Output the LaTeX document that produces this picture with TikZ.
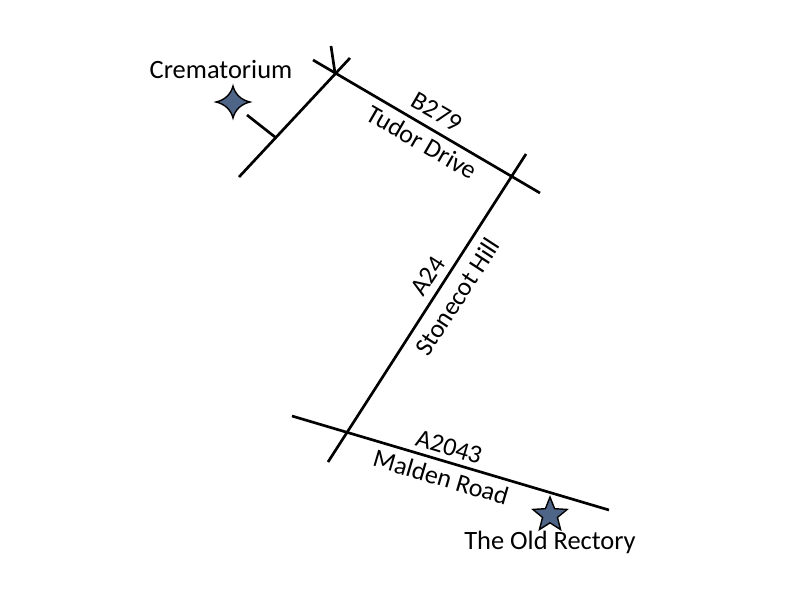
\documentclass[tikz,border=0pt]{standalone}
\usepackage{fontspec}
\setmainfont{Carlito}
\usetikzlibrary{shapes.geometric}
\tikzstyle{road} = [line width=1.9pt, line cap=butt]
\tikzstyle{place} = [font=\fontsize{18.8}{21}\selectfont, inner sep=0pt]
\tikzstyle{roadname} = [font=\fontsize{18.4}{21}\selectfont, inner sep=0pt]
\tikzstyle{mark star} = [star, star points=5, star point ratio=2.3, minimum size=36*0.711pt, inner sep=0pt, draw=black, line width=1pt, fill=starblue]
\definecolor{starblue}{HTML}{4F6588}

\begin{document}
\begin{tikzpicture}[x=0.711pt, y=-0.711pt]
	\useasboundingbox (0,0) rectangle (800,600);
	% junctions and road ends
	\coordinate (tudor a) at (313,60);
	\coordinate (tudor b) at (540,193);
	\coordinate (hill a) at (526,154);
	\coordinate (hill b) at (328,462);
	\coordinate (malden a) at (292,416);
	\coordinate (malden b) at (609,510);
	\coordinate (lane a) at (239,177);
	\coordinate (lane b) at (350,58);
	\coordinate (top) at (335,73);
	\coordinate (stub) at (331,46);
	\coordinate (drive a) at (247,115);
	\coordinate (drive b) at (275,137);

	\draw[road] (tudor a) -- (tudor b);
	\draw[road] (hill a) -- (hill b);
	\draw[road] (malden a) -- (malden b);
	\draw[road] (lane a) -- (lane b);
	\draw[road] (top) -- (stub);
	\draw[road] (drive a) -- (drive b);

	% road names
	\node[roadname, rotate=-30] (b279) at (437,112) {B279};
	\node[roadname, rotate=-30] (tudor) at (422,142) {Tudor Drive};
	\node[roadname, rotate=57] (a24) at (428,276) {A24};
	\node[roadname, rotate=57] (stonecot) at (457,297) {Stonecot Hill};
	\node[roadname, rotate=-16.5] (a2043) at (449,447) {A2043};
	\node[roadname, rotate=-16.5] (malden) at (441,477) {Malden Road};

	% places
	\node[place] (crem) at (221,69) {Crematorium};
	\node[place] (rectory) at (550,542) {The Old Rectory};
	\node[mark star] (rectory star) at (550,515) {};
	\draw[line width=1pt, fill=starblue] (233,86)
		.. controls (235,94) and (241,100) .. (250,102)
		.. controls (241,104) and (235,110) .. (233,118)
		.. controls (231,110) and (225,104) .. (216,102)
		.. controls (225,100) and (231,94) .. (233,86) -- cycle;
\end{tikzpicture}
\end{document}
